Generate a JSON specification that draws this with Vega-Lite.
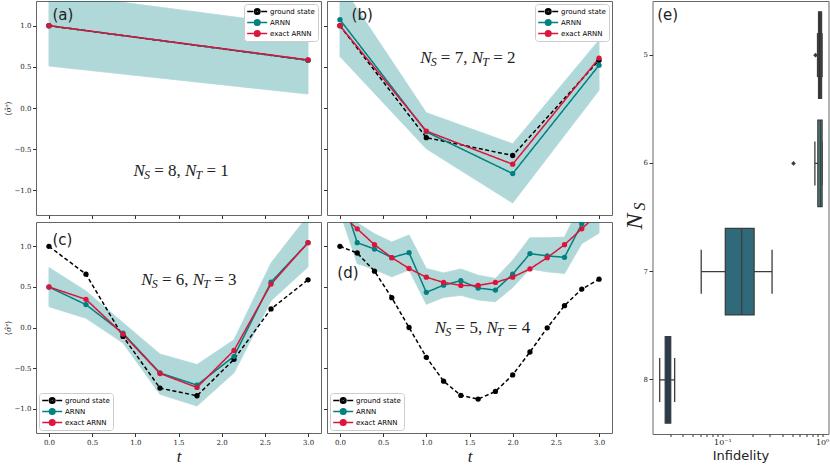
{
"$schema":"https://vega.github.io/schema/vega-lite/v6.json",
"padding":{"left":3,"top":0,"right":0,"bottom":0},
"background":"white",
"config":{"font":"DejaVu Sans","view":{"stroke":"#666666","strokeWidth":1},
"axis":{"domain":false,"grid":false,"tickColor":"#333333","tickSize":3.5,"labelColor":"#222222","labelFont":"DejaVu Serif","labelFontSize":7,"labelPadding":1.5,"titleColor":"#222222","titleFontWeight":"normal"},
"legend":{"title":null,"fillColor":"white","strokeColor":"#cccccc","cornerRadius":3,"padding":3,"labelFont":"DejaVu Sans","labelFontSize":7,"labelColor":"#000000","symbolSize":64,"symbolStrokeWidth":1.5,"labelOffset":13,"rowPadding":2,"clipHeight":9}},
"datasets":{
"lines":[
{"p":"a","s":"ground state","t":0,"v":1.0},{"p":"a","s":"ground state","t":3,"v":0.58},
{"p":"a","s":"ARNN","t":0,"v":1.0},{"p":"a","s":"ARNN","t":3,"v":0.58},
{"p":"a","s":"exact ARNN","t":0,"v":1.0},{"p":"a","s":"exact ARNN","t":3,"v":0.585},
{"p":"b","s":"ground state","t":0,"v":1.0},{"p":"b","s":"ground state","t":1,"v":-0.36},{"p":"b","s":"ground state","t":2,"v":-0.577},{"p":"b","s":"ground state","t":3,"v":0.58},
{"p":"b","s":"ARNN","t":0,"v":1.073},{"p":"b","s":"ARNN","t":1,"v":-0.29},{"p":"b","s":"ARNN","t":2,"v":-0.797},{"p":"b","s":"ARNN","t":3,"v":0.52},
{"p":"b","s":"exact ARNN","t":0,"v":1.0},{"p":"b","s":"exact ARNN","t":1,"v":-0.28},{"p":"b","s":"exact ARNN","t":2,"v":-0.683},{"p":"b","s":"exact ARNN","t":3,"v":0.606},
{"p":"c","s":"ground state","t":0,"v":1.0},{"p":"c","s":"ground state","t":0.4286,"v":0.657},{"p":"c","s":"ground state","t":0.8571,"v":-0.11},{"p":"c","s":"ground state","t":1.2857,"v":-0.747},{"p":"c","s":"ground state","t":1.7143,"v":-0.841},{"p":"c","s":"ground state","t":2.1429,"v":-0.392},{"p":"c","s":"ground state","t":2.5714,"v":0.229},{"p":"c","s":"ground state","t":3,"v":0.588},
{"p":"c","s":"ARNN","t":0,"v":0.498},{"p":"c","s":"ARNN","t":0.4286,"v":0.282},{"p":"c","s":"ARNN","t":0.8571,"v":-0.07},{"p":"c","s":"ARNN","t":1.2857,"v":-0.56},{"p":"c","s":"ARNN","t":1.7143,"v":-0.71},{"p":"c","s":"ARNN","t":2.1429,"v":-0.355},{"p":"c","s":"ARNN","t":2.5714,"v":0.559},{"p":"c","s":"ARNN","t":3,"v":1.045},
{"p":"c","s":"exact ARNN","t":0,"v":0.5},{"p":"c","s":"exact ARNN","t":0.4286,"v":0.347},{"p":"c","s":"exact ARNN","t":0.8571,"v":-0.082},{"p":"c","s":"exact ARNN","t":1.2857,"v":-0.567},{"p":"c","s":"exact ARNN","t":1.7143,"v":-0.739},{"p":"c","s":"exact ARNN","t":2.1429,"v":-0.282},{"p":"c","s":"exact ARNN","t":2.5714,"v":0.535},{"p":"c","s":"exact ARNN","t":3,"v":1.045},
{"p":"d","s":"ground state","t":0,"v":1.0},{"p":"d","s":"ground state","t":0.2,"v":0.918},{"p":"d","s":"ground state","t":0.4,"v":0.694},{"p":"d","s":"ground state","t":0.6,"v":0.367},{"p":"d","s":"ground state","t":0.8,"v":0.0},{"p":"d","s":"ground state","t":1.0,"v":-0.367},{"p":"d","s":"ground state","t":1.2,"v":-0.661},{"p":"d","s":"ground state","t":1.4,"v":-0.837},{"p":"d","s":"ground state","t":1.6,"v":-0.882},{"p":"d","s":"ground state","t":1.8,"v":-0.788},{"p":"d","s":"ground state","t":2.0,"v":-0.584},{"p":"d","s":"ground state","t":2.2,"v":-0.302},{"p":"d","s":"ground state","t":2.4,"v":-0.004},{"p":"d","s":"ground state","t":2.6,"v":0.269},{"p":"d","s":"ground state","t":2.8,"v":0.473},{"p":"d","s":"ground state","t":3.0,"v":0.596},
{"p":"d","s":"ARNN","t":0,"v":1.7},{"p":"d","s":"ARNN","t":0.2,"v":1.045},{"p":"d","s":"ARNN","t":0.4,"v":0.967},{"p":"d","s":"ARNN","t":0.6,"v":0.861},{"p":"d","s":"ARNN","t":0.8,"v":0.922},{"p":"d","s":"ARNN","t":1.0,"v":0.433},{"p":"d","s":"ARNN","t":1.2,"v":0.522},{"p":"d","s":"ARNN","t":1.4,"v":0.576},{"p":"d","s":"ARNN","t":1.6,"v":0.486},{"p":"d","s":"ARNN","t":1.8,"v":0.461},{"p":"d","s":"ARNN","t":2.0,"v":0.657},{"p":"d","s":"ARNN","t":2.2,"v":0.91},{"p":"d","s":"ARNN","t":2.4,"v":0.882},{"p":"d","s":"ARNN","t":2.6,"v":0.865},{"p":"d","s":"ARNN","t":2.8,"v":1.278},{"p":"d","s":"ARNN","t":3.0,"v":1.55},
{"p":"d","s":"exact ARNN","t":0,"v":1.41},{"p":"d","s":"exact ARNN","t":0.2,"v":1.216},{"p":"d","s":"exact ARNN","t":0.4,"v":1.02},{"p":"d","s":"exact ARNN","t":0.6,"v":0.861},{"p":"d","s":"exact ARNN","t":0.8,"v":0.727},{"p":"d","s":"exact ARNN","t":1.0,"v":0.62},{"p":"d","s":"exact ARNN","t":1.2,"v":0.555},{"p":"d","s":"exact ARNN","t":1.4,"v":0.518},{"p":"d","s":"exact ARNN","t":1.6,"v":0.518},{"p":"d","s":"exact ARNN","t":1.8,"v":0.555},{"p":"d","s":"exact ARNN","t":2.0,"v":0.62},{"p":"d","s":"exact ARNN","t":2.2,"v":0.722},{"p":"d","s":"exact ARNN","t":2.4,"v":0.861},{"p":"d","s":"exact ARNN","t":2.6,"v":1.02},{"p":"d","s":"exact ARNN","t":2.8,"v":1.216},{"p":"d","s":"exact ARNN","t":3.0,"v":1.41}
],
"bands":[
{"p":"a","t":0,"lo":0.51,"hi":1.4},{"p":"a","t":3,"lo":0.17,"hi":0.99},
{"p":"b","t":0,"lo":0.626,"hi":1.52},{"p":"b","t":1,"lo":-0.496,"hi":-0.057},{"p":"b","t":2,"lo":-1.154,"hi":-0.435},{"p":"b","t":3,"lo":0.215,"hi":0.825},
{"p":"c","t":0,"lo":0.257,"hi":0.739},{"p":"c","t":0.4286,"lo":0.114,"hi":0.449},{"p":"c","t":0.8571,"lo":-0.19,"hi":0.06},{"p":"c","t":1.2857,"lo":-0.824,"hi":-0.327},{"p":"c","t":1.7143,"lo":-0.967,"hi":-0.457},{"p":"c","t":2.1429,"lo":-0.559,"hi":-0.151},{"p":"c","t":2.5714,"lo":0.33,"hi":0.796},{"p":"c","t":3,"lo":0.747,"hi":1.38},
{"p":"d","t":0,"lo":1.42,"hi":1.95},{"p":"d","t":0.2,"lo":0.788,"hi":1.29},{"p":"d","t":0.4,"lo":0.714,"hi":1.155},{"p":"d","t":0.6,"lo":0.624,"hi":1.053},{"p":"d","t":0.8,"lo":0.71,"hi":1.14},{"p":"d","t":1.0,"lo":0.286,"hi":0.727},{"p":"d","t":1.2,"lo":0.371,"hi":0.673},{"p":"d","t":1.4,"lo":0.396,"hi":0.722},{"p":"d","t":1.6,"lo":0.339,"hi":0.645},{"p":"d","t":1.8,"lo":0.318,"hi":0.604},{"p":"d","t":2.0,"lo":0.494,"hi":0.829},{"p":"d","t":2.2,"lo":0.722,"hi":1.106},{"p":"d","t":2.4,"lo":0.686,"hi":1.106},{"p":"d","t":2.6,"lo":0.665,"hi":1.114},{"p":"d","t":2.8,"lo":1.033,"hi":1.55},{"p":"d","t":3.0,"lo":1.163,"hi":1.9}
],
"boxes":[
{"ns":"5","lower":0.9,"q1":0.922,"median":0.966,"q3":0.988,"upper":1.0},
{"ns":"6","lower":0.847,"q1":0.907,"median":0.96,"q3":1.0,"upper":1.0},
{"ns":"7","lower":0.0613,"q1":0.107,"median":0.156,"q3":0.208,"upper":0.315},
{"ns":"8","lower":0.0235,"q1":0.0267,"median":0.0284,"q3":0.0303,"upper":0.0332}
],
"outliers":[{"ns":"5","x":0.86},{"ns":"6","x":0.517}]
},
"spacing":8.5,
"resolve":{"scale":{"color":"independent","shape":"independent","strokeDash":"independent"}},
"hconcat":[
{"vconcat":[
{"hconcat":[
{"width":285,"height":214,"resolve":{"legend":{"color":"independent","shape":"independent","strokeDash":"independent"}},"layer":[
{"data":{"name":"bands"},"transform":[{"filter":"datum.p=='a'"}],"mark":{"type":"area","clip":true,"color":"#008080","opacity":0.3,"stroke":"#008080","strokeWidth":0.8},"encoding":{"x":{"field":"t","type":"quantitative","scale":{"domain":[-0.15,3.15],"nice":false,"zero":false},"axis":{"values":[0,0.5,1,1.5,2,2.5,3],"labels":false,"title":null}},"y":{"field":"lo","type":"quantitative","scale":{"domain":[-1.3,1.3],"nice":false,"zero":false},"axis":{"values":[-1,-0.5,0,0.5,1],"format":".1f","title":"⟨σ̂ᶻ⟩","titleFont":"DejaVu Serif","titleFontSize":8,"titlePadding":2}},"y2":{"field":"hi"}}},
{"data":{"name":"lines"},"transform":[{"filter":"datum.p=='a'"}],"mark":{"type":"line","clip":true,"strokeWidth":1.5},"encoding":{"x":{"field":"t","type":"quantitative"},"y":{"field":"v","type":"quantitative"},"color":{"field":"s","type":"nominal","scale":{"domain":["ground state","ARNN","exact ARNN"],"range":["#000000","#008080","#dc143c"]},"legend":null},"strokeDash":{"field":"s","type":"nominal","scale":{"domain":["ground state","ARNN","exact ARNN"],"range":[[4,2.5],[1,0],[1,0]]},"legend":null}}},
{"data":{"name":"lines"},"transform":[{"filter":"datum.p=='a'"}],"mark":{"type":"point","filled":true,"opacity":1,"size":28,"clip":true},"encoding":{"x":{"field":"t","type":"quantitative"},"y":{"field":"v","type":"quantitative"},"color":{"field":"s","type":"nominal","scale":{"domain":["ground state","ARNN","exact ARNN"],"range":["#000000","#008080","#dc143c"]},"legend":null}}},
{"data":{"name":"lines"},"transform":[{"filter":"false"}],"mark":{"type":"point","filled":false,"opacity":1,"strokeWidth":1.5},"encoding":{"x":{"field":"t","type":"quantitative"},"y":{"field":"v","type":"quantitative"},
"color":{"field":"s","type":"nominal","scale":{"domain":["ground state","ARNN","exact ARNN"],"range":["#000000","#008080","#dc143c"]},"legend":{"orient":"top-right","offset":3}},
"shape":{"field":"s","type":"nominal","scale":{"domain":["ground state","ARNN","exact ARNN"],"range":["M-1.2,0H0.3M2.3,0H3.8M0.6,0A0.7,0.7,0,1,1,2,0A0.7,0.7,0,1,1,0.6,0M1,0A0.3,0.3,0,1,1,1.6,0A0.3,0.3,0,1,1,1,0","M-1.2,0H3.8M0.6,0A0.7,0.7,0,1,1,2,0A0.7,0.7,0,1,1,0.6,0M1,0A0.3,0.3,0,1,1,1.6,0A0.3,0.3,0,1,1,1,0","M-1.2,0H3.8M0.6,0A0.7,0.7,0,1,1,2,0A0.7,0.7,0,1,1,0.6,0M1,0A0.3,0.3,0,1,1,1.6,0A0.3,0.3,0,1,1,1,0"]},"legend":{"orient":"top-right","offset":3}}}},
{"data":{"values":[{}]},"mark":{"type":"text","align":"left","baseline":"top","font":"DejaVu Sans","fontSize":15,"color":"#222222"},"encoding":{"x":{"datum":0.04,"type":"quantitative"},"y":{"datum":1.22,"type":"quantitative"},"text":{"value":"(a)"}}},
{"data":{"values":[{}]},"encoding":{"x":{"datum":1.53,"type":"quantitative"},"y":{"datum":-0.77,"type":"quantitative"}},"layer":[
{"mark":{"type":"text","align":"left","baseline":"middle","font":"Liberation Serif","fontStyle":"italic","fontSize":17,"color":"#222222","dx":-47.6,"text":"N"}},
{"mark":{"type":"text","align":"left","baseline":"middle","font":"Liberation Serif","fontStyle":"italic","fontSize":12,"color":"#222222","dx":-37.1,"dy":4,"text":"S"}},
{"mark":{"type":"text","align":"left","baseline":"middle","font":"Liberation Serif","fontSize":17,"color":"#222222","dx":-26.9,"text":"= 8,"}},
{"mark":{"type":"text","align":"left","baseline":"middle","font":"Liberation Serif","fontStyle":"italic","fontSize":17,"color":"#222222","dx":4,"text":"N"}},
{"mark":{"type":"text","align":"left","baseline":"middle","font":"Liberation Serif","fontStyle":"italic","fontSize":12,"color":"#222222","dx":14.4,"dy":4,"text":"T"}},
{"mark":{"type":"text","align":"left","baseline":"middle","font":"Liberation Serif","fontSize":17,"color":"#222222","dx":25.4,"text":"= 1"}}
]}
]},
{"width":285,"height":214,"resolve":{"legend":{"color":"independent","shape":"independent","strokeDash":"independent"}},"layer":[
{"data":{"name":"bands"},"transform":[{"filter":"datum.p=='b'"}],"mark":{"type":"area","clip":true,"color":"#008080","opacity":0.3,"stroke":"#008080","strokeWidth":0.8},"encoding":{"x":{"field":"t","type":"quantitative","scale":{"domain":[-0.15,3.15],"nice":false,"zero":false},"axis":{"values":[0,0.5,1,1.5,2,2.5,3],"labels":false,"title":null}},"y":{"field":"lo","type":"quantitative","scale":{"domain":[-1.3,1.3],"nice":false,"zero":false},"axis":{"values":[-1,-0.5,0,0.5,1],"labels":false,"title":null}},"y2":{"field":"hi"}}},
{"data":{"name":"lines"},"transform":[{"filter":"datum.p=='b'"}],"mark":{"type":"line","clip":true,"strokeWidth":1.5},"encoding":{"x":{"field":"t","type":"quantitative"},"y":{"field":"v","type":"quantitative"},"color":{"field":"s","type":"nominal","scale":{"domain":["ground state","ARNN","exact ARNN"],"range":["#000000","#008080","#dc143c"]},"legend":null},"strokeDash":{"field":"s","type":"nominal","scale":{"domain":["ground state","ARNN","exact ARNN"],"range":[[4,2.5],[1,0],[1,0]]},"legend":null}}},
{"data":{"name":"lines"},"transform":[{"filter":"datum.p=='b'"}],"mark":{"type":"point","filled":true,"opacity":1,"size":28,"clip":true},"encoding":{"x":{"field":"t","type":"quantitative"},"y":{"field":"v","type":"quantitative"},"color":{"field":"s","type":"nominal","scale":{"domain":["ground state","ARNN","exact ARNN"],"range":["#000000","#008080","#dc143c"]},"legend":null}}},
{"data":{"name":"lines"},"transform":[{"filter":"false"}],"mark":{"type":"point","filled":false,"opacity":1,"strokeWidth":1.5},"encoding":{"x":{"field":"t","type":"quantitative"},"y":{"field":"v","type":"quantitative"},
"color":{"field":"s","type":"nominal","scale":{"domain":["ground state","ARNN","exact ARNN"],"range":["#000000","#008080","#dc143c"]},"legend":{"orient":"top-right","offset":3}},
"shape":{"field":"s","type":"nominal","scale":{"domain":["ground state","ARNN","exact ARNN"],"range":["M-1.2,0H0.3M2.3,0H3.8M0.6,0A0.7,0.7,0,1,1,2,0A0.7,0.7,0,1,1,0.6,0M1,0A0.3,0.3,0,1,1,1.6,0A0.3,0.3,0,1,1,1,0","M-1.2,0H3.8M0.6,0A0.7,0.7,0,1,1,2,0A0.7,0.7,0,1,1,0.6,0M1,0A0.3,0.3,0,1,1,1.6,0A0.3,0.3,0,1,1,1,0","M-1.2,0H3.8M0.6,0A0.7,0.7,0,1,1,2,0A0.7,0.7,0,1,1,0.6,0M1,0A0.3,0.3,0,1,1,1.6,0A0.3,0.3,0,1,1,1,0"]},"legend":{"orient":"top-right","offset":3}}}},
{"data":{"values":[{}]},"mark":{"type":"text","align":"left","baseline":"top","font":"DejaVu Sans","fontSize":15,"color":"#222222"},"encoding":{"x":{"datum":0.134,"type":"quantitative"},"y":{"datum":1.22,"type":"quantitative"},"text":{"value":"(b)"}}},
{"data":{"values":[{}]},"encoding":{"x":{"datum":1.48,"type":"quantitative"},"y":{"datum":0.61,"type":"quantitative"}},"layer":[
{"mark":{"type":"text","align":"left","baseline":"middle","font":"Liberation Serif","fontStyle":"italic","fontSize":17,"color":"#222222","dx":-47.6,"text":"N"}},
{"mark":{"type":"text","align":"left","baseline":"middle","font":"Liberation Serif","fontStyle":"italic","fontSize":12,"color":"#222222","dx":-37.1,"dy":4,"text":"S"}},
{"mark":{"type":"text","align":"left","baseline":"middle","font":"Liberation Serif","fontSize":17,"color":"#222222","dx":-26.9,"text":"= 7,"}},
{"mark":{"type":"text","align":"left","baseline":"middle","font":"Liberation Serif","fontStyle":"italic","fontSize":17,"color":"#222222","dx":4,"text":"N"}},
{"mark":{"type":"text","align":"left","baseline":"middle","font":"Liberation Serif","fontStyle":"italic","fontSize":12,"color":"#222222","dx":14.4,"dy":4,"text":"T"}},
{"mark":{"type":"text","align":"left","baseline":"middle","font":"Liberation Serif","fontSize":17,"color":"#222222","dx":25.4,"text":"= 2"}}
]}
]}
],"spacing":0,"resolve":{"scale":{"color":"independent","shape":"independent","strokeDash":"independent"}}},
{"hconcat":[
{"width":285,"height":211,"resolve":{"legend":{"color":"independent","shape":"independent","strokeDash":"independent"}},"layer":[
{"data":{"name":"bands"},"transform":[{"filter":"datum.p=='c'"}],"mark":{"type":"area","clip":true,"color":"#008080","opacity":0.3,"stroke":"#008080","strokeWidth":0.8},"encoding":{"x":{"field":"t","type":"quantitative","scale":{"domain":[-0.15,3.15],"nice":false,"zero":false},"axis":{"values":[0,0.5,1,1.5,2,2.5,3],"format":".1f","title":"t","titleFont":"Liberation Serif","titleFontStyle":"italic","titleFontSize":17,"titlePadding":3}},"y":{"field":"lo","type":"quantitative","scale":{"domain":[-1.3,1.3],"nice":false,"zero":false},"axis":{"values":[-1,-0.5,0,0.5,1],"format":".1f","title":"⟨σ̂ᶻ⟩","titleFont":"DejaVu Serif","titleFontSize":8,"titlePadding":2}},"y2":{"field":"hi"}}},
{"data":{"name":"lines"},"transform":[{"filter":"datum.p=='c'"}],"mark":{"type":"line","clip":true,"strokeWidth":1.5},"encoding":{"x":{"field":"t","type":"quantitative"},"y":{"field":"v","type":"quantitative"},"color":{"field":"s","type":"nominal","scale":{"domain":["ground state","ARNN","exact ARNN"],"range":["#000000","#008080","#dc143c"]},"legend":null},"strokeDash":{"field":"s","type":"nominal","scale":{"domain":["ground state","ARNN","exact ARNN"],"range":[[4,2.5],[1,0],[1,0]]},"legend":null}}},
{"data":{"name":"lines"},"transform":[{"filter":"datum.p=='c'"}],"mark":{"type":"point","filled":true,"opacity":1,"size":28,"clip":true},"encoding":{"x":{"field":"t","type":"quantitative"},"y":{"field":"v","type":"quantitative"},"color":{"field":"s","type":"nominal","scale":{"domain":["ground state","ARNN","exact ARNN"],"range":["#000000","#008080","#dc143c"]},"legend":null}}},
{"data":{"name":"lines"},"transform":[{"filter":"false"}],"mark":{"type":"point","filled":false,"opacity":1,"strokeWidth":1.5},"encoding":{"x":{"field":"t","type":"quantitative"},"y":{"field":"v","type":"quantitative"},
"color":{"field":"s","type":"nominal","scale":{"domain":["ground state","ARNN","exact ARNN"],"range":["#000000","#008080","#dc143c"]},"legend":{"orient":"bottom-left","offset":3}},
"shape":{"field":"s","type":"nominal","scale":{"domain":["ground state","ARNN","exact ARNN"],"range":["M-1.2,0H0.3M2.3,0H3.8M0.6,0A0.7,0.7,0,1,1,2,0A0.7,0.7,0,1,1,0.6,0M1,0A0.3,0.3,0,1,1,1.6,0A0.3,0.3,0,1,1,1,0","M-1.2,0H3.8M0.6,0A0.7,0.7,0,1,1,2,0A0.7,0.7,0,1,1,0.6,0M1,0A0.3,0.3,0,1,1,1.6,0A0.3,0.3,0,1,1,1,0","M-1.2,0H3.8M0.6,0A0.7,0.7,0,1,1,2,0A0.7,0.7,0,1,1,0.6,0M1,0A0.3,0.3,0,1,1,1.6,0A0.3,0.3,0,1,1,1,0"]},"legend":{"orient":"bottom-left","offset":3}}}},
{"data":{"values":[{}]},"mark":{"type":"text","align":"left","baseline":"top","font":"DejaVu Sans","fontSize":15,"color":"#222222"},"encoding":{"x":{"datum":0.04,"type":"quantitative"},"y":{"datum":1.16,"type":"quantitative"},"text":{"value":"(c)"}}},
{"data":{"values":[{}]},"encoding":{"x":{"datum":1.62,"type":"quantitative"},"y":{"datum":0.585,"type":"quantitative"}},"layer":[
{"mark":{"type":"text","align":"left","baseline":"middle","font":"Liberation Serif","fontStyle":"italic","fontSize":17,"color":"#222222","dx":-47.6,"text":"N"}},
{"mark":{"type":"text","align":"left","baseline":"middle","font":"Liberation Serif","fontStyle":"italic","fontSize":12,"color":"#222222","dx":-37.1,"dy":4,"text":"S"}},
{"mark":{"type":"text","align":"left","baseline":"middle","font":"Liberation Serif","fontSize":17,"color":"#222222","dx":-26.9,"text":"= 6,"}},
{"mark":{"type":"text","align":"left","baseline":"middle","font":"Liberation Serif","fontStyle":"italic","fontSize":17,"color":"#222222","dx":4,"text":"N"}},
{"mark":{"type":"text","align":"left","baseline":"middle","font":"Liberation Serif","fontStyle":"italic","fontSize":12,"color":"#222222","dx":14.4,"dy":4,"text":"T"}},
{"mark":{"type":"text","align":"left","baseline":"middle","font":"Liberation Serif","fontSize":17,"color":"#222222","dx":25.4,"text":"= 3"}}
]}
]},
{"width":285,"height":211,"resolve":{"legend":{"color":"independent","shape":"independent","strokeDash":"independent"}},"layer":[
{"data":{"name":"bands"},"transform":[{"filter":"datum.p=='d'"}],"mark":{"type":"area","clip":true,"color":"#008080","opacity":0.3,"stroke":"#008080","strokeWidth":0.8},"encoding":{"x":{"field":"t","type":"quantitative","scale":{"domain":[-0.15,3.15],"nice":false,"zero":false},"axis":{"values":[0,0.5,1,1.5,2,2.5,3],"format":".1f","title":"t","titleFont":"Liberation Serif","titleFontStyle":"italic","titleFontSize":17,"titlePadding":3}},"y":{"field":"lo","type":"quantitative","scale":{"domain":[-1.3,1.3],"nice":false,"zero":false},"axis":{"values":[-1,-0.5,0,0.5,1],"labels":false,"title":null}},"y2":{"field":"hi"}}},
{"data":{"name":"lines"},"transform":[{"filter":"datum.p=='d'"}],"mark":{"type":"line","clip":true,"strokeWidth":1.5},"encoding":{"x":{"field":"t","type":"quantitative"},"y":{"field":"v","type":"quantitative"},"color":{"field":"s","type":"nominal","scale":{"domain":["ground state","ARNN","exact ARNN"],"range":["#000000","#008080","#dc143c"]},"legend":null},"strokeDash":{"field":"s","type":"nominal","scale":{"domain":["ground state","ARNN","exact ARNN"],"range":[[4,2.5],[1,0],[1,0]]},"legend":null}}},
{"data":{"name":"lines"},"transform":[{"filter":"datum.p=='d'"}],"mark":{"type":"point","filled":true,"opacity":1,"size":28,"clip":true},"encoding":{"x":{"field":"t","type":"quantitative"},"y":{"field":"v","type":"quantitative"},"color":{"field":"s","type":"nominal","scale":{"domain":["ground state","ARNN","exact ARNN"],"range":["#000000","#008080","#dc143c"]},"legend":null}}},
{"data":{"name":"lines"},"transform":[{"filter":"false"}],"mark":{"type":"point","filled":false,"opacity":1,"strokeWidth":1.5},"encoding":{"x":{"field":"t","type":"quantitative"},"y":{"field":"v","type":"quantitative"},
"color":{"field":"s","type":"nominal","scale":{"domain":["ground state","ARNN","exact ARNN"],"range":["#000000","#008080","#dc143c"]},"legend":{"orient":"bottom-left","offset":3}},
"shape":{"field":"s","type":"nominal","scale":{"domain":["ground state","ARNN","exact ARNN"],"range":["M-1.2,0H0.3M2.3,0H3.8M0.6,0A0.7,0.7,0,1,1,2,0A0.7,0.7,0,1,1,0.6,0M1,0A0.3,0.3,0,1,1,1.6,0A0.3,0.3,0,1,1,1,0","M-1.2,0H3.8M0.6,0A0.7,0.7,0,1,1,2,0A0.7,0.7,0,1,1,0.6,0M1,0A0.3,0.3,0,1,1,1.6,0A0.3,0.3,0,1,1,1,0","M-1.2,0H3.8M0.6,0A0.7,0.7,0,1,1,2,0A0.7,0.7,0,1,1,0.6,0M1,0A0.3,0.3,0,1,1,1.6,0A0.3,0.3,0,1,1,1,0"]},"legend":{"orient":"bottom-left","offset":3}}}},
{"data":{"values":[{}]},"mark":{"type":"text","align":"left","baseline":"top","font":"DejaVu Sans","fontSize":15,"color":"#222222"},"encoding":{"x":{"datum":-0.03,"type":"quantitative"},"y":{"datum":0.756,"type":"quantitative"},"text":{"value":"(d)"}}},
{"data":{"values":[{}]},"encoding":{"x":{"datum":1.65,"type":"quantitative"},"y":{"datum":0.0,"type":"quantitative"}},"layer":[
{"mark":{"type":"text","align":"left","baseline":"middle","font":"Liberation Serif","fontStyle":"italic","fontSize":17,"color":"#222222","dx":-47.6,"text":"N"}},
{"mark":{"type":"text","align":"left","baseline":"middle","font":"Liberation Serif","fontStyle":"italic","fontSize":12,"color":"#222222","dx":-37.1,"dy":4,"text":"S"}},
{"mark":{"type":"text","align":"left","baseline":"middle","font":"Liberation Serif","fontSize":17,"color":"#222222","dx":-26.9,"text":"= 5,"}},
{"mark":{"type":"text","align":"left","baseline":"middle","font":"Liberation Serif","fontStyle":"italic","fontSize":17,"color":"#222222","dx":4,"text":"N"}},
{"mark":{"type":"text","align":"left","baseline":"middle","font":"Liberation Serif","fontStyle":"italic","fontSize":12,"color":"#222222","dx":14.4,"dy":4,"text":"T"}},
{"mark":{"type":"text","align":"left","baseline":"middle","font":"Liberation Serif","fontSize":17,"color":"#222222","dx":25.4,"text":"= 4"}}
]}
]}
],"spacing":0,"resolve":{"scale":{"color":"independent","shape":"independent","strokeDash":"independent"}}}
],"spacing":1,"resolve":{"scale":{"color":"independent","shape":"independent","strokeDash":"independent"}}},
{"width":176,"height":433,"layer":[
{"data":{"name":"boxes"},"mark":{"type":"rule","color":"#3d3d3d","strokeWidth":1.3},"encoding":{"y":{"field":"ns","type":"ordinal","scale":{"type":"band","domain":["5","6","7","8"],"paddingInner":0.2,"paddingOuter":0.1},"axis":{"title":null,"labelAngle":0}},"x":{"field":"lower","type":"quantitative","scale":{"type":"log","domain":[0.0199,1.16],"nice":false},"axis":{"values":[0.03,0.04,0.05,0.06,0.07,0.08,0.09,0.1,0.2,0.3,0.4,0.5,0.6,0.7,0.8,0.9,1],"labelExpr":"datum.value == 0.1 ? '10⁻¹' : (datum.value == 1 ? '10⁰' : '')","labelFlush":false,"labelOverlap":false,"labelFontSize":8,"tickSize":2.5,"title":"Infidelity","titleFont":"DejaVu Sans","titleFontSize":13,"titlePadding":3}},"x2":{"field":"upper"}}},
{"data":{"name":"boxes"},"mark":{"type":"tick","color":"#3d3d3d","size":44,"thickness":1.3,"opacity":1},"encoding":{"y":{"field":"ns","type":"ordinal"},"x":{"field":"lower","type":"quantitative"}}},
{"data":{"name":"boxes"},"mark":{"type":"tick","color":"#3d3d3d","size":44,"thickness":1.3,"opacity":1},"encoding":{"y":{"field":"ns","type":"ordinal"},"x":{"field":"upper","type":"quantitative"}}},
{"data":{"name":"boxes"},"mark":{"type":"bar","stroke":"#3d3d3d","strokeWidth":1.3,"opacity":1},"encoding":{"y":{"field":"ns","type":"ordinal"},"x":{"field":"q1","type":"quantitative"},"x2":{"field":"q3"},"color":{"field":"ns","type":"nominal","scale":{"domain":["5","6","7","8"],"range":["#2e2e2e","#4b8a8b","#2f6a7a","#1e3b57"]},"legend":null}}},
{"data":{"name":"boxes"},"mark":{"type":"tick","color":"#3d3d3d","size":86,"thickness":1.3,"opacity":1},"encoding":{"y":{"field":"ns","type":"ordinal"},"x":{"field":"median","type":"quantitative"}}},
{"data":{"name":"outliers"},"mark":{"type":"point","shape":"diamond","filled":true,"color":"#3d3d3d","size":22,"opacity":1},"encoding":{"y":{"field":"ns","type":"ordinal"},"x":{"field":"x","type":"quantitative"}}},
{"data":{"values":[{}]},"mark":{"type":"text","align":"left","baseline":"top","font":"DejaVu Sans","fontSize":15,"color":"#222222","dy":-47},"encoding":{"x":{"datum":0.0222,"type":"quantitative"},"y":{"datum":"5","type":"ordinal"},"text":{"value":"(e)"}}},
{"data":{"values":[{}]},"encoding":{"x":{"datum":0.0199,"type":"quantitative"},"y":{"datum":"6","type":"ordinal"}},"layer":[
{"mark":{"type":"text","align":"center","baseline":"middle","font":"Liberation Serif","fontStyle":"italic","fontSize":24,"color":"#222222","angle":270,"dx":-58,"dy":-18,"text":"N"}},
{"mark":{"type":"text","align":"center","baseline":"middle","font":"Liberation Serif","fontStyle":"italic","fontSize":16,"color":"#222222","angle":270,"dx":-43,"dy":-13,"text":"S"}}
]}
]}
]
}
